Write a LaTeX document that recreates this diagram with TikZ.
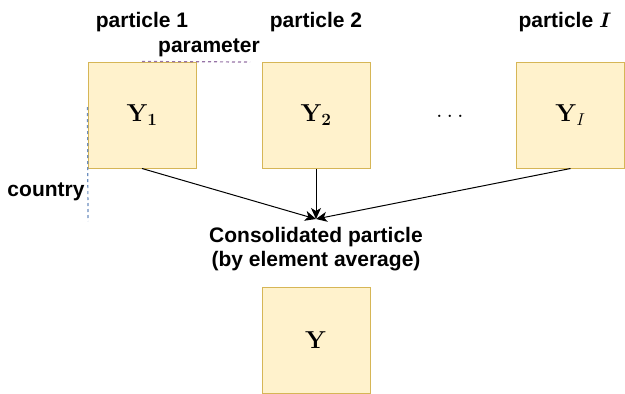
\RequirePackage{fix-cm}
\documentclass[tikz,border=0pt]{standalone}
\usepackage{bm}
\usepackage[no-math]{fontspec}
\newfontfamily\labelfont{Liberation Sans}
\usetikzlibrary{arrows.meta}
\definecolor{boxfill}{HTML}{FFF2CC}
\definecolor{boxline}{HTML}{D6B656}
\definecolor{paramline}{HTML}{9673A6}
\definecolor{countryline}{HTML}{6C8EBF}
\begin{document}
\begin{tikzpicture}[x=1pt,y=-1pt,
        box/.style = {draw=boxline, fill=boxfill, line width=1pt, minimum width=108pt, minimum height=106pt, inner sep=0pt, font=\fontsize{24.5}{28}\selectfont},
        lbl/.style = {font=\labelfont\fontsize{21}{24}\selectfont\bfseries, inner sep=0pt},
        hint/.style = {line width=1.2pt, dash pattern=on 3pt off 3pt},
        arrow/.style = {line width=1pt,-{Stealth[length=11pt,width=10pt,inset=3pt]}}]
                \useasboundingbox (0,0) rectangle (625,394);

                \node[box] (y1)   at (142,115)   {$\mathbf{Y_1}$};
                \node[box] (y2)   at (316,115)   {$\mathbf{Y_2}$};
                \node[box] (yI)   at (570.5,115) {$\mathbf{Y}_I$};
                \node[box] (ybar) at (316,340)   {$\mathbf{Y}$};
                \node[font=\fontsize{24}{28}\selectfont] (dots) at (450,116) {$\dots$};

                \node[lbl] (p1) at (142,22) {particle 1};
                \node[lbl] (p2) at (316,22) {particle 2};
                \node[lbl] (pI) at (565,22) {particle $\bm{I}$};
                \node[lbl] (param) at (209,48) {parameter};
                \node[lbl] (ctry) at (46,192) {country};
                \node[lbl, align=center] (cons) at (316,249) {Consolidated particle\\(by element average)};

                % axis hints
                \coordinate (pend) at (250,62);
                \coordinate (cend) at (88,221);
                \draw[hint, paramline] (y1.north) -- (pend);
                \draw[hint, countryline] ([yshift=8pt]y1.west) -- (cend);

                \coordinate (merge) at (316,219);
                \draw[arrow] (y1.south) -- (merge);
                \draw[arrow] (y2.south) -- (merge);
                \draw[arrow] (yI.south) -- (merge);
            \end{tikzpicture}
\end{document}
